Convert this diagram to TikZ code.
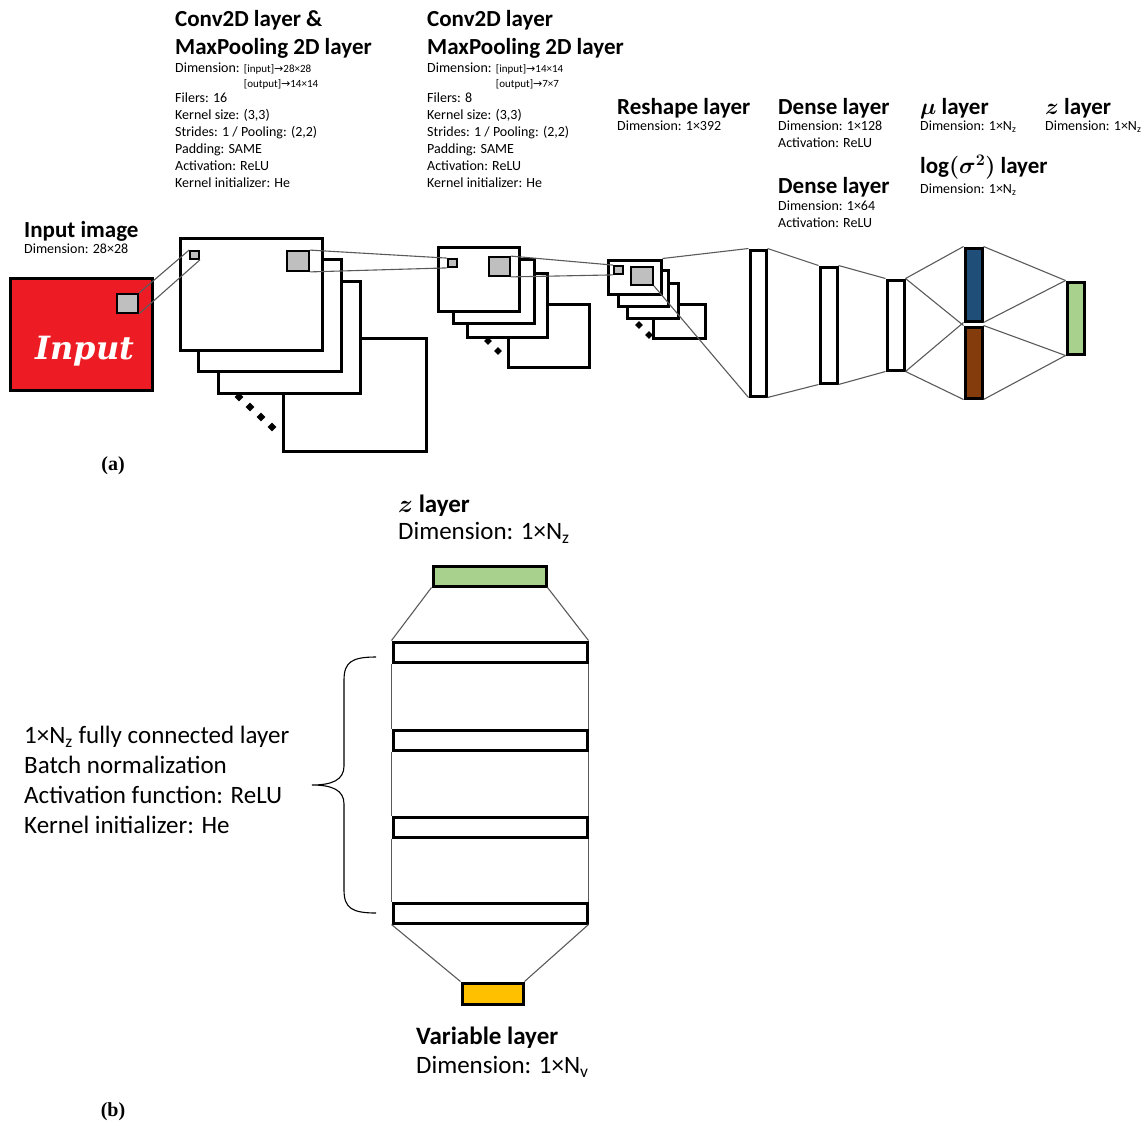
\documentclass[tikz,border=0pt]{standalone}
\usepackage{fix-cm}
\usepackage{amsmath}
\usepackage{fontspec}
\setmainfont{Carlito}
\newfontfamily\symf{DejaVu Sans}
\newfontfamily\tagf{Liberation Serif}
\newfontfamily\inputf{DejaVu Serif}
\usetikzlibrary{fit,shapes.geometric}
\definecolor{inred}{RGB}{237,28,36}
\definecolor{mublue}{RGB}{31,78,121}
\definecolor{varbrown}{RGB}{132,60,12}
\definecolor{zgreen}{RGB}{169,209,142}
\definecolor{vyellow}{RGB}{255,192,0}
\definecolor{kgrey}{RGB}{191,191,191}
\definecolor{wirec}{RGB}{90,90,90}
\newcommand{\lay}[4][layer]{\node[#1, fit={(#3) (#4)}] (#2) {};}
\newcommand{\arr}{{\symf →}}
\newcommand{\dimtab}[2]{\smash{\fontsize{11}{15}\selectfont\begin{tabular}[t]{@{}l@{}}[input]\arr#1×#1\\{}[output]\arr#2×#2\end{tabular}}}
\tikzset{
  layer/.style={draw, line width=3pt, fill=white, inner sep=0pt},
  inbox/.style={layer, fill=inred},
  kern/.style={draw, line width=1.8pt, fill=kgrey, inner sep=0pt},
  wire/.style={draw=wirec, line width=1.1pt},
  dot/.style={diamond, fill, inner sep=0pt, minimum size=9pt},
  ttl/.style={anchor=north west, inner sep=0pt, align=left, font=\bfseries\boldmath\fontsize{23}{28}\selectfont},
  info/.style={anchor=north west, inner sep=0pt, align=left, font=\fontsize{14}{17}\selectfont},
  btl/.style={ttl, font=\bfseries\boldmath\fontsize{25}{30}\selectfont},
  txt/.style={anchor=north west, inner sep=0pt, align=left, font=\fontsize{25}{30}\selectfont},
  tag/.style={font=\tagf\bfseries\fontsize{20}{24}\selectfont}
}
\begin{document}
\begin{tikzpicture}[x=1pt, y=-1pt]
\useasboundingbox (0,0) rectangle (1147,1126);
\lay[inbox]{in}{10,278}{152,390}
\node[text=white, font=\inputf\bfseries\itshape\fontsize{32}{36}\selectfont] (intxt) at (85,351) {Input};
\lay[kern]{ink}{117,294}{138,313}
\node[ttl] (int) at (24,221) {Input image};
\node[info] (ini) at (24,244) {Dimension: 28×28};
\lay{c1d}{283,338}{426,451}
\foreach \i in {0,...,3} \node[dot] (c1dot\i) at (239+\i*11, 397+\i*10) {};
\lay{c1c}{218,281}{360,393}
\lay{c1b}{198,259}{341,371}
\lay{c1a}{180,238}{322,350}
\lay[kern]{c1s}{190,251}{199,259}
\lay[kern]{c1g}{287,251}{309,271}
\node[ttl] (c1t) at (175,10) {Conv2D layer \&\\MaxPooling 2D layer};
\node[info] (c1i) at (175,63) {Dimension: \dimtab{28}{14}\\[13pt]Filers: 16\\Kernel size: (3,3)\\Strides: 1 / Pooling: (2,2)\\Padding: SAME\\Activation: ReLU\\Kernel initializer: He};
\lay{c2d}{508,304}{589,367}
\foreach \i in {0,1} \node[dot, minimum size=8pt] (c2dot\i) at (488+\i*10, 341+\i*10) {};
\lay{c2c}{467,273}{547,337}
\lay{c2b}{453,259}{534,323}
\lay{c2a}{438,247}{519,311}
\lay[kern]{c2s}{448,259}{457,267}
\lay[kern]{c2g}{489,257}{510,276}
\node[ttl] (c2t) at (427,10) {Conv2D layer\\MaxPooling 2D layer};
\node[info] (c2i) at (427,63) {Dimension: \dimtab{14}{7}\\[13pt]Filers: 8\\Kernel size: (3,3)\\Strides: 1 / Pooling: (2,2)\\Padding: SAME\\Activation: ReLU\\Kernel initializer: He};
\lay{c3d}{653,304}{705,338}
\foreach \i in {0,1} \node[dot, minimum size=8pt] (c3dot\i) at (639+\i*10, 325+\i*10) {};
\lay{c3c}{627,283}{678,318}
\lay{c3b}{618,270}{668,306}
\lay{c3a}{608,260}{661,294}
\lay[kern]{c3s}{614,266}{623,274}
\lay[kern]{c3g}{631,267}{653,285}
\node[ttl] (rt) at (617,98) {Reshape layer};
\node[info] (ri) at (617,121) {Dimension: 1×392};
\lay{d1}{750,250}{766,396}
\lay{d2}{820,267}{837,383}
\lay{d3}{887,280}{904,370}
\lay[layer, fill=mublue]{mu}{965,248}{982,321}
\lay[layer, fill=varbrown]{lv}{965,327}{982,398}
\lay[layer, fill=zgreen]{z}{1067,282}{1084,354}
\node[ttl] (d1t) at (778,98) {Dense layer};
\node[info] (d1i) at (778,121) {Dimension: 1×128\\Activation: ReLU};
\node[ttl] (d2t) at (778,177) {Dense layer};
\node[info] (d2i) at (778,201) {Dimension: 1×64\\Activation: ReLU};
\node[ttl] (mut) at (920,98) {$\mu$ layer};
\node[info] (mui) at (920,121) {Dimension: 1×N\textsubscript{z}};
\node[ttl] (lvt) at (920,155) {$\log(\sigma^2)$ layer};
\node[info] (lvi) at (920,184) {Dimension: 1×N\textsubscript{z}};
\node[ttl] (zt) at (1045,98) {$z$ layer};
\node[info] (zi) at (1045,121) {Dimension: 1×N\textsubscript{z}};
\draw[wire] (ink.north east) -- (c1s.north west) (ink.south east) -- (c1s.south east);
\draw[wire] (c1g.north east) -- (c2s.north west) (c1g.south east) -- (c2s.south west);
\draw[wire] (c2g.north east) -- (c3s.north west) (c2g.south east) -- (c3s.south west);
\draw[wire] (c3a.north east) -- (d1.north west) (c3g.south east) -- (d1.south west);
\draw[wire] (d1.north east) -- (d2.north west) (d1.south east) -- (d2.south west);
\draw[wire] (d2.north east) -- (d3.north west) (d2.south east) -- (d3.south west);
\draw[wire] (d3.north east) -- (mu.north west) (d3.north east) -- (lv.north west);
\draw[wire] (d3.south east) -- (mu.south west) (d3.south east) -- (lv.south west);
\draw[wire] (mu.north east) -- (z.north west) (lv.north east) -- (z.south west);
\draw[wire] (mu.south east) -- (z.north west) (lv.south east) -- (z.south west);
\node[tag] (ta) at (113,466) {(a)};
\lay[layer, fill=zgreen]{zb}{433,566}{546,586}
\lay{f1}{393,642}{587,662}
\lay{f2}{393,730}{587,750}
\lay{f3}{393,817}{587,837}
\lay{f4}{393,903}{587,923}
\lay[layer, fill=vyellow]{vb}{462,983}{523,1004}
\draw[wire] (zb.south west) -- (f1.north west) (zb.south east) -- (f1.north east);
\foreach \a/\b in {f1/f2,f2/f3,f3/f4}
  \draw[wire] (\a.south west) -- (\b.north west) (\a.south east) -- (\b.north east);
\draw[wire] (f4.south west) -- (vb.north west) (f4.south east) -- (vb.north east);
\coordinate (bt) at (376,657);
\coordinate (bb) at (376,913);
\coordinate (btip) at (312,785);
\draw[line width=1.1pt] (bt) .. controls (352,657) and (344,662) .. (344,680) -- (344,766)
  .. controls (344,780) and (332,785) .. (btip) .. controls (332,785) and (344,790) .. (344,804)
  -- (344,890) .. controls (344,908) and (352,913) .. (bb);
\node[btl] (zbt) at (398,495) {$z$ layer};
\node[txt] (zbi) at (398,522) {Dimension: 1×N\textsubscript{z}};
\node[txt] (fct) at (24,726) {1×N\textsubscript{z} fully connected layer\\Batch normalization\\Activation function: ReLU\\Kernel initializer: He};
\node[btl] (vbt) at (416,1027) {Variable layer};
\node[txt] (vbi) at (416,1056) {Dimension: 1×N\textsubscript{v}};
\node[tag] (tb) at (113,1112) {(b)};
\end{tikzpicture}
\end{document}
